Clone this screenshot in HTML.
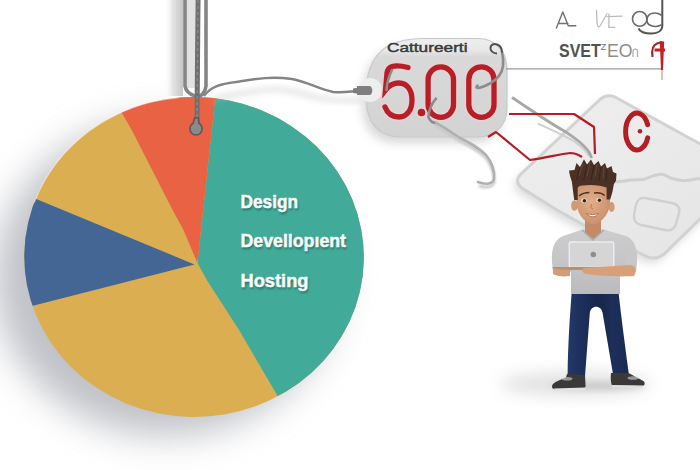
<!DOCTYPE html>
<html><head><meta charset="utf-8">
<style>
html,body{margin:0;padding:0;background:#fff;}
body{width:700px;height:470px;overflow:hidden;position:relative;font-family:"Liberation Sans",sans-serif;}
svg{position:absolute;left:0;top:0;}
</style></head>
<body>
<svg width="700" height="470" viewBox="0 0 700 470">
<defs>
  <clipPath id="pieclip"><ellipse cx="194.04" cy="256.98" rx="169.8" ry="159.95" transform="rotate(1.16 194.04 256.98)"/></clipPath>
  <filter id="blur18" x="-50%" y="-50%" width="200%" height="200%"><feGaussianBlur stdDeviation="18"/></filter>
  <filter id="blur14" x="-50%" y="-50%" width="200%" height="200%"><feGaussianBlur stdDeviation="14"/></filter>
  <filter id="blur8" x="-50%" y="-50%" width="200%" height="200%"><feGaussianBlur stdDeviation="8"/></filter>
  <filter id="blur5" x="-50%" y="-50%" width="200%" height="200%"><feGaussianBlur stdDeviation="5"/></filter>
  <filter id="blur3" x="-50%" y="-50%" width="200%" height="200%"><feGaussianBlur stdDeviation="3"/></filter>
  <filter id="blur2" x="-50%" y="-50%" width="200%" height="200%"><feGaussianBlur stdDeviation="2"/></filter>
  <filter id="blur1" x="-50%" y="-50%" width="200%" height="200%"><feGaussianBlur stdDeviation="1"/></filter>
  <filter id="blur05" x="-50%" y="-50%" width="200%" height="200%"><feGaussianBlur stdDeviation="0.5"/></filter>
  <linearGradient id="tagg" x1="0" y1="0" x2="0" y2="1">
    <stop offset="0" stop-color="#eeeeee"/><stop offset="0.12" stop-color="#e8e8e8"/><stop offset="0.18" stop-color="#d9d9d9"/><stop offset="1" stop-color="#d3d3d3"/>
  </linearGradient>
  <linearGradient id="cardg" x1="0" y1="0" x2="1" y2="1">
    <stop offset="0" stop-color="#efefef"/><stop offset="1" stop-color="#e4e4e4"/>
  </linearGradient>
  <linearGradient id="shirtg" x1="0" y1="0" x2="0" y2="1">
    <stop offset="0" stop-color="#cdcdcf"/><stop offset="0.6" stop-color="#c4c4c6"/><stop offset="1" stop-color="#bbbbbe"/>
  </linearGradient>
  <linearGradient id="pantsg" x1="0" y1="0" x2="1" y2="0">
    <stop offset="0" stop-color="#24396a"/><stop offset="0.25" stop-color="#1c2e5a"/><stop offset="0.5" stop-color="#17264a"/><stop offset="0.75" stop-color="#1c2e5a"/><stop offset="1" stop-color="#1a2b52"/>
  </linearGradient>
  <radialGradient id="faceg" cx="0.45" cy="0.45" r="0.6">
    <stop offset="0" stop-color="#e2ae89"/><stop offset="1" stop-color="#c98f6a"/>
  </radialGradient>
  <linearGradient id="strshadow" x1="0" y1="0" x2="1" y2="0">
    <stop offset="0" stop-color="#ffffff" stop-opacity="0"/><stop offset="0.45" stop-color="#e4e4e4"/><stop offset="1" stop-color="#c6c6c6"/>
  </linearGradient>
</defs>
<rect width="700" height="470" fill="#fff"/>

<!-- ============ CARD (right) ============ -->
<g id="card">
  <path d="M600,99.5 Q607,93.5 615,97 L700,144 L760,178 L700,219 L664,254 Q655,261 646,256 L600,234 L557,210 L522,188 Q514,182 520,175 Z" fill="#b5b5b5" opacity="0.5" filter="url(#blur5)" transform="translate(-3,5)"/>
  <path d="M600,99.5 Q607,93.5 615,97 L700,144 L760,178 L700,219 L664,254 Q655,261 646,256 L600,234 L557,210 L522,188 Q514,182 520,175 Z" fill="url(#cardg)" stroke="#d2d2d2" stroke-width="3"/>
  <path d="M645,198 L672,203 Q681,205 679,213 L676,224 Q673,232 665,230 L641,225 Q633,223 634,215 L636,205 Q638,197 645,198 Z" fill="none" stroke="#d0d0d0" stroke-width="2.4"/>
  <path d="M590,176 C600,180 612,183 624,181 C634,179 640,180 643,179.6 C650,177 656,174 662,174.3 C667,175 669,178 672,178.5 C678,180 682,181 686,180.6 C692,180 696,179 700,178.5" fill="none" stroke="#d0d0d0" stroke-width="3"/>
</g>

<!-- ============ PIE ============ -->
<ellipse cx="166" cy="278" rx="172" ry="158" fill="#969aa3" opacity="0.6" filter="url(#blur18)"/>
<g clip-path="url(#pieclip)">
  <rect x="0" y="80" width="380" height="360" fill="#dcae52"/>
  <polygon points="197.5,263 198.2,256 215.3,97 221,44 460,0 460,470 301,436 262.4,370 239,330 206.8,280" fill="#42aa98"/>
  <polygon points="194.5,264.4 35.6,198.8 -20,175.8 -20,319.3 32,306" fill="#446695"/>
  <polygon points="197,262 183.5,230 172.6,210 131.7,130 122,113.3 110,90 160,40 221,44 215.3,97 198.2,256" fill="#ea6244"/>
</g>

<path d="M34.4,202.3 A170,160 0 0 1 179.4,97.6" fill="none" stroke="#fff" stroke-width="1.2" opacity="0.45"/>
<!-- pie text -->
<g font-family="Liberation Sans" font-weight="bold" font-size="19.2">
  <g fill="#1d5a4e" opacity="0.75" filter="url(#blur1)" transform="translate(1,1.5)">
    <text x="240.5" y="208.3" textLength="57.5" lengthAdjust="spacingAndGlyphs">Design</text>
    <text x="240.5" y="247" textLength="105.5" lengthAdjust="spacingAndGlyphs">Devellop&#305;ent</text>
    <text x="240.5" y="287" textLength="68" lengthAdjust="spacingAndGlyphs">Hosting</text>
  </g>
  <g fill="#f7fbfa" stroke="#f7fbfa" stroke-width="0.5">
    <text x="240.5" y="208.3" textLength="57.5" lengthAdjust="spacingAndGlyphs">Design</text>
    <text x="240.5" y="247" textLength="105.5" lengthAdjust="spacingAndGlyphs">Devellop&#305;ent</text>
    <text x="240.5" y="287" textLength="68" lengthAdjust="spacingAndGlyphs">Hosting</text>
  </g>
</g>

<!-- ============ STRINGS TO PIE ============ -->
<rect x="164" y="0" width="19" height="96" fill="url(#strshadow)"/>
<rect x="186" y="0" width="9" height="88" fill="#e2e2e2"/>
<g fill="none" stroke="#868686" stroke-width="3.6" stroke-linecap="round">
  <path d="M185,0 L185,86 Q186,93 195,96"/>
  <path d="M206,0 L206,86 Q205,93 200,96"/>
</g>
<path d="M198,0 L197,124" stroke="#707070" stroke-width="5" fill="none"/>
<path d="M198,0 L197,124" stroke="#8a8a8a" stroke-width="1.4" stroke-dasharray="3 3" fill="none"/>
<path d="M194.5,118 L198.5,118 L198.8,123.3 C200.8,124.2 202,126.5 202,129 C202,132.3 199.3,135 196,135 C192.7,135 190,132.3 190,129 C190,126.5 191.2,124.2 193.2,123.3 Z" fill="#8a8a8a" stroke="#5a5a5a" stroke-width="1.6"/>

<!-- string pie -> tag -->
<path d="M214,100 C226,95 236,95 250,92 C268,89 280,88 296,92 C314,97 330,102 360,100" fill="none" stroke="#bbb" stroke-width="4" opacity="0.5" filter="url(#blur3)"/>
<path d="M204,96 C210,87 220,84 236,82 C255,79 270,76 292,79 C308,82 318,89 333,92 C345,93 352,91 358,91" fill="none" stroke="#848484" stroke-width="2.4"/>
<path d="M353,88.5 L366,86.5 L368,95 L353,93 Z" fill="#7b7b7b"/>

<!-- ============ TAG ============ -->
<path d="M366,95 C366,70 374,52 392,44 C400,40.5 410,39 420,38.5 L478,38.5 C496,38.5 507,52 507,70 L507,108 C507,125 495,137 478,137 L400,137 C380,137 367,123 366.5,102 Z" fill="#aaa" opacity="0.45" filter="url(#blur5)" transform="translate(-4,6)"/>
<path d="M366,95 C366,70 374,52 392,44 C400,40.5 410,39 420,38.5 L478,38.5 C496,38.5 507,52 507,70 L507,108 C507,125 495,137 478,137 L400,137 C380,137 367,123 366.5,102 Z" fill="url(#tagg)" stroke="#c9c9c9" stroke-width="1.2"/>
<circle cx="370" cy="90" r="12" fill="#eeeeee"/>
<path d="M357,86 L370,86 C373,87 373,94 370,95 L357,95 Z" fill="#7f7f7f"/>
<text x="387" y="51.5" font-family="Liberation Sans" font-size="12.6" fill="#3a3a3a" stroke="#3a3a3a" stroke-width="0.45" textLength="80.5" lengthAdjust="spacingAndGlyphs">Cattureerti</text>
<g fill="none" stroke="#ecd2d2" stroke-width="8.5" stroke-linecap="round" opacity="0.8">
  <path d="M408,67.5 C402,66 396,65.5 392,66.5 C389,67.5 387.5,70 387,73 L385.5,90 C389,85.5 394,83 399,83 C407.5,83 412,90.5 412,100 C412,110.5 406.5,117 399,117 C392.5,117 387.5,113.5 385,107"/>
  <rect x="428.1" y="66.8" width="25.4" height="50.5" rx="12.7" ry="12.7"/>
  <rect x="468.8" y="66.8" width="25.2" height="50.5" rx="12.6" ry="12.6"/>
</g>
<g fill="none" stroke="#b61e28" stroke-width="5.3" stroke-linecap="round">
  <path d="M408,67.5 C402,66 396,65.5 392,66.5 C389,67.5 387.5,70 387,73 L385.5,90 C389,85.5 394,83 399,83 C407.5,83 412,90.5 412,100 C412,110.5 406.5,117 399,117 C392.5,117 387.5,113.5 385,107"/>
  <rect x="428.1" y="66.8" width="25.4" height="50.5" rx="12.7" ry="12.7"/>
  <rect x="468.8" y="66.8" width="25.2" height="50.5" rx="12.6" ry="12.6"/>
</g>
<circle cx="421.5" cy="112.5" r="5.2" fill="#ecd2d2" opacity="0.8"/><circle cx="421.5" cy="112.5" r="3.8" fill="#b61e28"/>

<!-- hooks -->
<g fill="none" stroke="#8c8c8c" stroke-width="2.6" stroke-linecap="round">
  <path d="M502,52 C503,56 503.5,61 503,66 C502,74 497,79.4 490,83.5 C485,86 481,88 478,88 C476,88 476,86.5 477.6,85.5"/>
  <path d="M392,70 C389,76 387,82 386.5,90"/>
</g>
<path d="M436,98.6 C432,103 429,110 428.4,117 C430,121 433,123 436,123" fill="none" stroke="#8c8c8c" stroke-width="2.6" stroke-linecap="round"/>
<path d="M436,126 C446,131 452,136 460,141 C470,146 478,150 486,158 C492,165 495,175 494,182 C493,187 486,188 480,186" fill="none" stroke="#c8c8c8" stroke-width="3" stroke-linecap="round" filter="url(#blur1)"/>
<path d="M436,123 C446,128 452,133 460,138 C470,143 478,147 486,155 C492,162 495,172 494,179 C493,184 486,185 478,182" fill="none" stroke="#b0b0b0" stroke-width="2.6" stroke-linecap="round"/>
<path d="M497,53.5 C493,53.5 490,50.5 490.5,47.5 C491,44.5 494,43.5 497,44.5 C500,45.5 502,48 502,52.5" fill="none" stroke="#505050" stroke-width="2"/>

<!-- wire from tag to man -->
<path d="M538,123.7 C552,130 565,136 575,142 C582,147 586,151 589,156" fill="none" stroke="#cfcfcf" stroke-width="2"/>
<path d="M512,97.5 C522,104 532,111 540,116 C549,122 557,127 565,131.4 C575,138 583,144 588,150.6 C590,153 591,156 591.6,158" fill="none" stroke="#a8a8a8" stroke-width="2.8"/>

<!-- ============ RED LINES ============ -->
<g fill="none" stroke="#b31d24" stroke-width="2.2" stroke-linejoin="round">
  <path d="M509,114 L574,114 L594,127 L595,154"/>
  <path d="M488,137 L496,132 L530,160 C545,158 560,154 570,153 C575,153 579,155 582,157"/>
</g>
<line x1="506" y1="68.8" x2="663" y2="68.8" stroke="#9a9a9a" stroke-width="1.3"/>

<!-- C -->
<path d="M647.6,124.7 A11.4,18.4 0 1 0 647.7,137.9" fill="none" stroke="#b31d24" stroke-width="5" stroke-linecap="round"/>
<circle cx="640" cy="131.3" r="2.3" fill="#b31d24"/>

<!-- top-right text -->
<g fill="none" stroke="#707070" stroke-width="1.4" stroke-linecap="round" stroke-linejoin="round">
  <path d="M556.4,28 L562.8,12 L568.2,25.4 M559,23.5 L567.9,23.5 M568.2,25.7 L575.8,25.7"/>
</g>
<g fill="none" stroke="#bcbcbc" stroke-width="1.3" stroke-linecap="round">
  <path d="M596.5,10.5 L597,23 C597.5,27 599,27.5 600,26 L607,13.7 M608.9,14 L608.9,27.4 L614.6,27.4 M607,16.6 L622,16.2"/>
</g>
<g fill="none" stroke="#6a6a6a" stroke-width="1.6" stroke-linecap="round">
  <ellipse cx="639.7" cy="18.9" rx="7.2" ry="7.4"/>
  <path d="M661,15 C657,12 648,12 647,19 C646,26 655,28 661,25"/>
</g>
<path d="M662.3,0 L662.3,26 C662,31 657,33.5 651,33.5 C645,33.5 640,31.5 638.5,28.5" fill="none" stroke="#555" stroke-width="2"/>
<text x="559" y="56.6" font-family="Liberation Sans" font-weight="bold" font-size="18.5" fill="#525252" textLength="41.7" lengthAdjust="spacingAndGlyphs">SVET</text>
<text x="600.8" y="50" font-family="Liberation Sans" font-size="9.5" fill="#777" textLength="5.6" lengthAdjust="spacingAndGlyphs">Z</text>
<text x="607" y="56.6" font-family="Liberation Sans" font-size="18.5" fill="#8c8c8c" textLength="25.5" lengthAdjust="spacingAndGlyphs">EO</text>
<path d="M633,57 L633,51 C633,48.5 637.5,48.5 637.5,51 L637.5,57" fill="none" stroke="#b0b0b0" stroke-width="1.3"/>
<path d="M652.5,57 C651.5,50 653,45 657,43.5 C659,42.8 661,42.5 662,42.5" fill="none" stroke="#9a2b2b" stroke-width="2.2"/>
<polygon points="659.8,41 664.2,41.5 663,70 661,70" fill="#c41e27"/>
<path d="M654.5,50 L665,50" stroke="#c41e27" stroke-width="3"/>
<path d="M662,70 L662,80" stroke="#d04040" stroke-width="1.2" opacity="0.6"/>

<!-- ============ MAN ============ -->
<ellipse cx="575" cy="384" rx="75" ry="12" fill="#aaa" opacity="0.35" filter="url(#blur8)"/>
<ellipse cx="598" cy="386" rx="48" ry="4" fill="#999" opacity="0.35" filter="url(#blur3)"/>
<g id="man">
  <!-- pants -->
  <path d="M571.6,293 L618.6,293 C621,315 625,345 628.8,374 L613,374 L602.6,313 C601.5,304.5 590.8,304.5 589.8,313 L585,376 L567.6,376 C567.8,345 570,315 571.6,293 Z" fill="url(#pantsg)"/>
  <!-- shoes -->
  <path d="M567,374 L585,375 L585.5,385 C586,388 584,389 580,389 L556,389.5 C552,389.5 551,386.5 553,384 C556,381 561,379.5 566,377.5 Z" fill="#3b3937"/>
  <ellipse cx="567" cy="378.8" rx="5.5" ry="1.8" fill="#d8d8d8" opacity="0.6"/>
  <path d="M553.5,388.6 L585.5,387.6 L585,390.2 L556,391 Z" fill="#e2e2e2"/>
  <path d="M611,373 L628.5,373 C634,376 640,379 644,381.5 C645.5,384 644.5,386 641,386 L612,385.5 C610.5,382 610.5,377 611,373 Z" fill="#3b3937"/>
  <ellipse cx="633" cy="378" rx="5.5" ry="1.8" fill="#d8d8d8" opacity="0.6"/>
  <path d="M612,385 L643,385.5 L642,387.8 L612,387.4 Z" fill="#e0e0e0"/>
  <!-- shirt -->
  <path d="M584,229 L602,229 L626,236 C634,239 638,248 637,262 L636,272 L620,272 L620,294 L571,294 L571,272 L553,272 L552,262 C551,248 555,239 563,236 Z" fill="url(#shirtg)"/>
  <!-- collar -->
  <path d="M582,230 L593,240 L604,230" fill="none" stroke="#9fb0b8" stroke-width="1.5"/>
  <!-- neck -->
  <path d="M585,220 L601,220 L601,232 L593,239 L585,232 Z" fill="#c48a66"/>
  <!-- ears -->
  <ellipse cx="574.5" cy="205.5" rx="3.3" ry="5.3" fill="#d09a75"/>
  <ellipse cx="611.6" cy="207" rx="3" ry="5" fill="#d09a75"/>
  <!-- face -->
  <path d="M576,187 C577,184 582,183.5 593,183.5 C604,183.5 609,184 610,187 L610,203 C609.5,212 604,220 597,223.5 C594.5,224.6 591.5,224.6 589,223.5 C582,220 577,212 576.5,203 Z" fill="url(#faceg)"/>
  <!-- hair -->
  <path d="M569,170.5 L574.5,170 L576.5,163 L580,167 L584,159.2 L587,164.5 L591,159.5 L594,165 L598.5,161 L601,166.5 L605,163 L607,168.5 L611.5,166 L613,172 L616.5,173.5 L616,180.7 L613.9,184 L612.4,192 L610.2,199.5 L606.6,199.5 L606.6,187.5 C600,184.8 590,184.3 580,185.8 L577.7,187.5 L577.7,200 L574.2,200 L571.8,181.5 L570,176 Z" fill="#4a3025"/>
  <path d="M580,167 L576.5,180 M587,164.5 L583.5,181 M594,165 L591,180 M601,166.5 L599,181 M607,168.5 L606,182" stroke="#33211a" stroke-width="1" fill="none" opacity="0.8"/>
  <path d="M583,163 L579,176 M590,162 L587,176 M597,164 L595,177 M604,166 L603,178" stroke="#6e4e40" stroke-width="1.1" fill="none" opacity="0.7"/>
  <!-- eyebrows -->
  <path d="M579,196 C582,193.5 586,192.5 589.4,192.5" stroke="#4a3226" stroke-width="1.6" fill="none"/>
  <path d="M594,193 C598,192.5 602,193 604.6,195.5" stroke="#4a3226" stroke-width="1.6" fill="none"/>
  <!-- eyes -->
  <ellipse cx="584" cy="200.6" rx="2.8" ry="2.2" fill="#f2e6de"/>
  <ellipse cx="599" cy="200.1" rx="2.8" ry="2.2" fill="#f2e6de"/>
  <circle cx="584.4" cy="200.7" r="1.8" fill="#3a2218"/>
  <circle cx="599.4" cy="200.2" r="1.8" fill="#3a2218"/>
  <!-- nose -->
  <path d="M591.5,204 C590.5,207 591,209 593,209" stroke="#b67c5a" stroke-width="1" fill="none"/>
  <!-- smile -->
  <path d="M586.5,213.5 C590.5,215 595,215 598.5,213.3 C596.5,217.8 589.5,218 586.5,213.5 Z" fill="#f6f0ea" stroke="#9b5f44" stroke-width="0.7"/>
  <!-- laptop lid -->
  <rect x="569.3" y="242" width="44.5" height="25.5" rx="1.5" fill="#d5d5d5" stroke="#ededed" stroke-width="1.4"/>
  <circle cx="593.3" cy="254.5" r="2.8" fill="#8e8e8e"/>
  <!-- laptop base -->
  <path d="M552.5,267 L616.6,267 L616,270 L553,270 Z" fill="#b9906f"/>
  <!-- arms -->
  <path d="M553,268 C556,269 564,270 570,270 L570,276 C563,277 556,276 553,274 Z" fill="#d39c76"/>
  <path d="M584,268 C598,267 615,266 630,265 C636,265 637,272 634,276 C622,277 600,276 586,274 C582,273 581,269 584,268 Z" fill="#d8a07a"/>
  <!-- right upper arm/sleeve -->
  <path d="M628,244 C634,246 637,254 636,264 L626,265 Z" fill="#c8c8c8"/>
</g>
</svg>
</body></html>
